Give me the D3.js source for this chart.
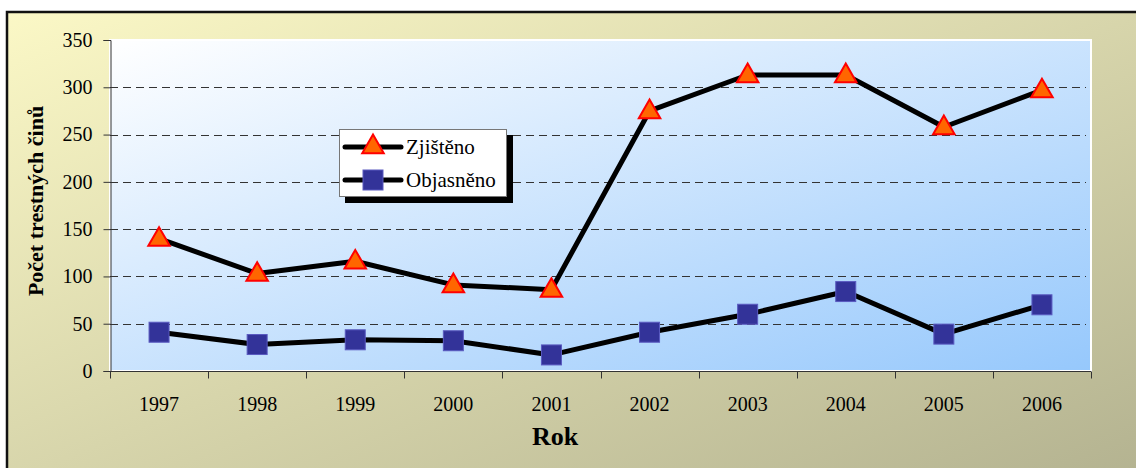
<!DOCTYPE html>
<html>
<head>
<meta charset="utf-8">
<script src="https://cdn.jsdelivr.net/npm/d3@7"></script>
<style>
  body { margin: 0; background: #fff; }
  svg { display: block; font-family: "Liberation Serif", "Times New Roman", serif; }
</style>
</head>
<body>
<div class="chart"></div>
<script>
// Data
const years = ["1997", "1998", "1999", "2000", "2001", "2002", "2003", "2004", "2005", "2006"];
const zjisteno = [140, 103, 116, 91, 86, 275, 313, 313, 258, 297];
const objasneno = [41, 28, 33, 32, 17, 41, 60, 84, 39, 70];
const yTicks = [0, 50, 100, 150, 200, 250, 300, 350];
const seriesNames = ["Zjištěno", "Objasněno"];

const width = 1136, height = 468;
const plot = { left: 110, top: 40, right: 1091, bottom: 371 };
const serif = "Liberation Serif";

const svg = d3.select(".chart").append("svg")
  .attr("width", width)
  .attr("height", height);

const defs = svg.append("defs");
const outerGrad = defs.append("linearGradient").attr("id", "outerGrad")
  .attr("x1", "0").attr("y1", "0").attr("x2", "1").attr("y2", "1");
outerGrad.append("stop").attr("offset", "0").attr("stop-color", "#fbf8c6");
outerGrad.append("stop").attr("offset", "1").attr("stop-color", "#b3b290");

const plotGrad = defs.append("linearGradient").attr("id", "plotGrad")
  .attr("x1", "0").attr("y1", "0").attr("x2", "1").attr("y2", "1");
plotGrad.append("stop").attr("offset", "0").attr("stop-color", "#ffffff");
plotGrad.append("stop").attr("offset", "1").attr("stop-color", "#96c8fc");

// outer frame
svg.append("rect")
  .attr("x", 7).attr("y", 12)
  .attr("width", 1140).attr("height", 470)
  .attr("fill", "url(#outerGrad)")
  .attr("stroke", "#111")
  .attr("stroke-width", 2.5);

// scales
const x = d3.scaleBand().domain(years).range([plot.left, plot.right]).padding(0);
const y = d3.scaleLinear().domain([0, 350]).range([plot.bottom, plot.top]);
const cx = d => x(d) + x.bandwidth() / 2;

// plot area
svg.append("rect")
  .attr("x", plot.left).attr("y", plot.top)
  .attr("width", plot.right - plot.left).attr("height", plot.bottom - plot.top)
  .attr("fill", "url(#plotGrad)")
  .attr("stroke", "#ffffff")
  .attr("stroke-width", 2);

// gridlines
svg.append("g")
  .selectAll("line")
  .data(yTicks.filter(t => t > 0 && t < 350))
  .join("line")
  .attr("x1", plot.left).attr("x2", plot.right - 5)
  .attr("y1", d => Math.round(y(d)) + 0.5).attr("y2", d => Math.round(y(d)) + 0.5)
  .attr("stroke", "#333")
  .attr("stroke-dasharray", "8,5");

// y axis
const yAxis = svg.append("g")
  .attr("transform", `translate(${plot.left + 0.5},0)`)
  .call(d3.axisLeft(y).tickValues(yTicks).tickSize(7).tickPadding(11));
yAxis.select(".domain").attr("stroke", "#333");
yAxis.selectAll(".tick line").attr("stroke", "#333");
yAxis.selectAll("text").attr("font-size", 20).attr("font-family", serif).attr("fill", "#000");

// x axis: ticks at band boundaries
const xAxisG = svg.append("g").attr("transform", `translate(0,${plot.bottom + 0.5})`);
xAxisG.append("line")
  .attr("x1", plot.left).attr("x2", plot.right)
  .attr("stroke", "#333");
xAxisG.selectAll(".bt")
  .data(years.concat(["end"]))
  .join("line")
  .attr("class", "bt")
  .attr("x1", (d, i) => Math.round(i < years.length ? x(d) : plot.right) + 0.5)
  .attr("x2", (d, i) => Math.round(i < years.length ? x(d) : plot.right) + 0.5)
  .attr("y1", 0).attr("y2", 7)
  .attr("stroke", "#333");
xAxisG.selectAll("text")
  .data(years)
  .join("text")
  .attr("x", d => cx(d))
  .attr("y", 39)
  .attr("text-anchor", "middle")
  .attr("font-family", serif)
  .attr("font-size", 20)
  .text(d => d);

// axis titles
svg.append("text")
  .attr("transform", `translate(43,201) rotate(-90)`)
  .attr("text-anchor", "middle")
  .attr("font-family", serif)
  .attr("font-size", 22)
  .attr("font-weight", "bold")
  .text("Počet trestných činů");

svg.append("text")
  .attr("x", 555).attr("y", 445)
  .attr("text-anchor", "middle")
  .attr("font-family", serif)
  .attr("font-size", 26)
  .attr("font-weight", "bold")
  .text("Rok");

// lines
const line = d3.line().x((d, i) => cx(years[i])).y(d => y(d));
[zjisteno, objasneno].forEach(vals => {
  svg.append("path")
    .datum(vals)
    .attr("d", line)
    .attr("fill", "none")
    .attr("stroke", "#000")
    .attr("stroke-width", 5)
    .attr("stroke-linejoin", "round");
});

// markers
const tri = d3.symbol().type(d3.symbolTriangle).size(200);
function triangle(g) {
  g.append("path").attr("d", tri())
    .attr("fill", "#ff6600")
    .attr("stroke", "#ff0000")
    .attr("stroke-width", 2);
}
function square(g) {
  g.append("rect")
    .attr("x", -10).attr("y", -10).attr("width", 20).attr("height", 20)
    .attr("fill", "#333399")
    .attr("stroke", "#5a5ac0")
    .attr("stroke-width", 1);
}

svg.append("g").selectAll("g")
  .data(zjisteno)
  .join("g")
  .attr("transform", (d, i) => `translate(${cx(years[i])},${y(d) + 1})`)
  .each(function () { triangle(d3.select(this)); });

svg.append("g").selectAll("g")
  .data(objasneno)
  .join("g")
  .attr("transform", (d, i) => `translate(${cx(years[i])},${y(d)})`)
  .each(function () { square(d3.select(this)); });

// legend
const lg = svg.append("g").attr("transform", "translate(339,129)");
lg.append("rect")
  .attr("x", 6).attr("y", 6).attr("width", 168).attr("height", 68)
  .attr("fill", "#000");
lg.append("rect")
  .attr("x", 0.5).attr("y", 0.5).attr("width", 167).attr("height", 67)
  .attr("fill", "#fff")
  .attr("stroke", "#777");
seriesNames.forEach((name, i) => {
  const row = lg.append("g").attr("transform", `translate(0,${18 + i * 33})`);
  row.append("line")
    .attr("x1", 6).attr("x2", 62)
    .attr("stroke", "#000").attr("stroke-width", 5).attr("stroke-linecap", "round");
  const m = row.append("g").attr("transform", "translate(34,0)");
  if (i === 0) triangle(m); else square(m);
  row.append("text")
    .attr("x", 67).attr("y", 7)
    .attr("font-family", serif)
    .attr("font-size", 21)
    .text(name);
});
</script>
</body>
</html>
